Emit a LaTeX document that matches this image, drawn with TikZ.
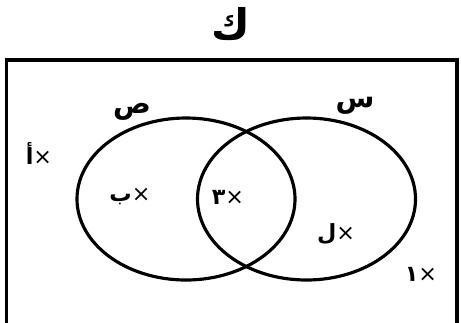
\documentclass[tikz,border=0pt]{standalone}
\usepackage{fontspec}
\newfontfamily\arabicfont[Script=Arabic]{DejaVu Sans}
\TeXXeTstate=1
\usetikzlibrary{shapes.geometric,positioning}
\newcommand{\elemx}{{\mdseries ×}}
\tikzset{
    frame/.style={draw=black, line width=3.4pt},
    setellipse/.style={
        ellipse,
        draw=black,
        line width=2.7pt,
        minimum width=6.54cm,
        minimum height=4.86cm,
        inner sep=0pt
    },
    setlabel/.style={font=\arabicfont\bfseries\fontsize{24}{28}\selectfont, inner sep=0pt},
    elemlabel/.style={font=\arabicfont\bfseries\fontsize{19}{22}\selectfont, inner sep=0pt},
    titlelabel/.style={font=\arabicfont\bfseries\fontsize{36}{42}\selectfont, inner sep=0pt}
}
\begin{document}
\begin{tikzpicture}[x=0.03cm, y=-0.03cm]
    \useasboundingbox (0,0) rectangle (461,322);
    \node[titlelabel] (title) at (231,24) {\beginR ك\endR};

    % Universal set frame (bottom runs off the page)
    \coordinate (fbl) at (6.5,330);
    \coordinate (ftl) at (6.5,60);
    \coordinate (ftr) at (457,60);
    \coordinate (fbr) at (457,330);
    \draw[frame] (fbl) -- (ftl) -- (ftr) -- (fbr);

    % Sets
    \node[setellipse] (setS) at (186,199) {};
    \node[setellipse] (setR) at (306.5,199) {};
    \node[setlabel] (labS) at (132,112) {\beginR ص\endR};
    \node[setlabel] (labR) at (355,106) {\beginR س\endR};

    % Elements
    \node[elemlabel] (ea) at (39,153) {\beginR \elemx أ\endR};
    \node[elemlabel] (eb) at (130,197) {\beginR \elemx ب\endR};
    \node[elemlabel] (e3) at (228,197) {\beginR \elemx ٣\endR};
    \node[elemlabel] (el) at (336,234) {\beginR \elemx ل\endR};
    \node[elemlabel] (e1) at (421,274) {\beginR \elemx ١\endR};
\end{tikzpicture}
\end{document}
